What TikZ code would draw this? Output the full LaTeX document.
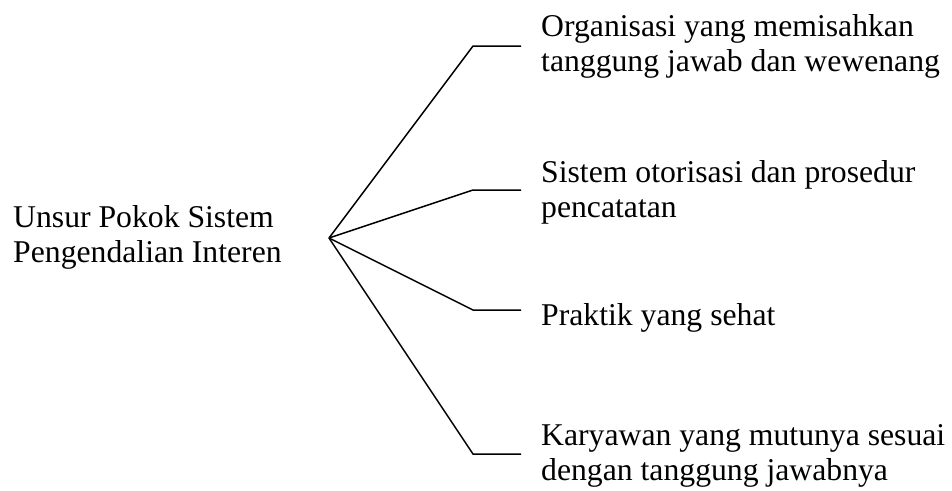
\documentclass[tikz,border=0pt]{standalone}
\usepackage{fontspec}
\setmainfont{Liberation Serif}
\begin{document}
\begin{tikzpicture}[x=1pt,y=-1pt,
  label/.style={anchor=base west,inner sep=0pt,align=left,
    font=\fontsize{31.7}{35}\selectfont},
  branch/.style={line width=1.5pt,line join=miter}]
\useasboundingbox (0,0) rectangle (952,490);

% root label (placed by the baseline of its last line) and the fan-out point
\node[label] (root) at (13,262) {Unsur Pokok Sistem\\Pengendalian Interen};
\coordinate (hub) at (329,238);

% bend and end of each branch
\coordinate (b1) at (473,46);  \coordinate (e1) at (521,46);
\coordinate (b2) at (473,190); \coordinate (e2) at (521,190);
\coordinate (b3) at (473,310); \coordinate (e3) at (521,310);
\coordinate (b4) at (473,454); \coordinate (e4) at (521,454);

% item labels
\node[label] (i1) at (541,71)  {Organisasi yang memisahkan\\tanggung jawab dan wewenang};
\node[label] (i2) at (541,217) {Sistem otorisasi dan prosedur\\pencatatan};
\node[label] (i3) at (541,325) {Praktik yang sehat};
\node[label] (i4) at (541,480) {Karyawan yang mutunya sesuai\\dengan tanggung jawabnya};

% branches
\foreach \k in {1,...,4}
  \draw[branch] (hub) -- (b\k) -- (e\k);
\end{tikzpicture}
\end{document}
